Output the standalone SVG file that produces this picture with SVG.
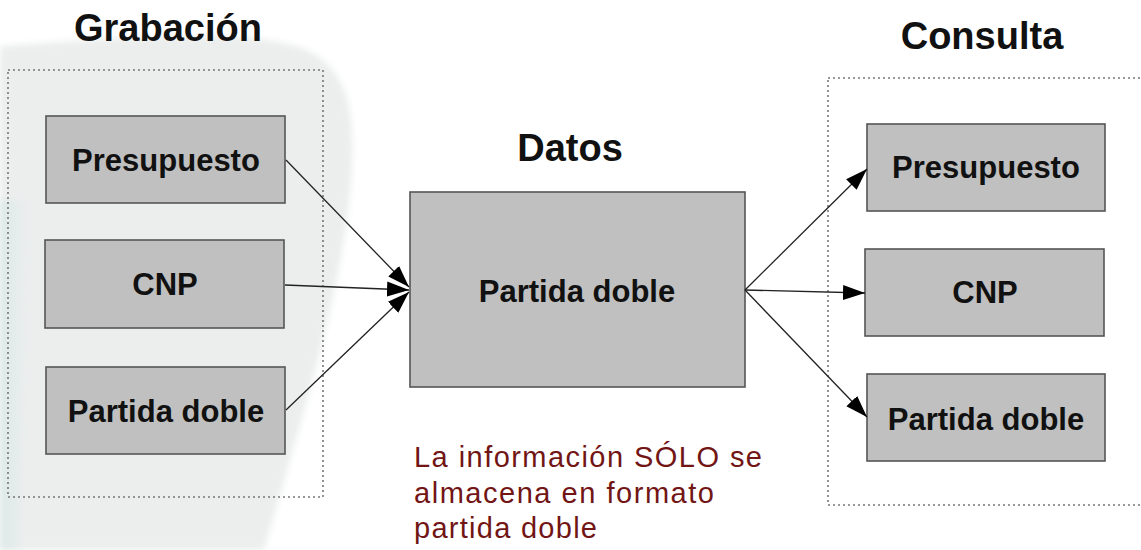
<svg xmlns="http://www.w3.org/2000/svg" width="1141" height="550" viewBox="0 0 1141 550">
<defs>
<style>
.title{font-family:"Liberation Sans",Arial,sans-serif;font-weight:bold;font-size:38px;fill:#111;text-anchor:middle}
.box{fill:#c0c0c0;stroke:#555;stroke-width:1.6}
.lbl{font-family:"Liberation Sans",Arial,sans-serif;font-weight:bold;font-size:31px;fill:#111;text-anchor:middle}
.grp{fill:none;stroke:#777;stroke-width:1.6;stroke-dasharray:2 3}
.conn{fill:none;stroke:#222;stroke-width:1.3}
.note{font-family:"Liberation Sans",Arial,sans-serif;font-size:29px;fill:#721515}
</style>
<marker id="ah" markerUnits="userSpaceOnUse" markerWidth="24" markerHeight="16" viewBox="0 -8 24 16" refX="22" refY="0" orient="auto">
<path d="M0,-7.5 L22,0 L0,7.5 Z" fill="#000"/>
</marker>
<filter id="soft" x="-10%" y="-10%" width="120%" height="120%"><feGaussianBlur stdDeviation="3"/></filter>
<linearGradient id="teal" x1="0" y1="0" x2="1" y2="0">
<stop offset="0" stop-color="#d9e9e6" stop-opacity="0.8"/>
<stop offset="1" stop-color="#d9e9e6" stop-opacity="0"/>
</linearGradient>
</defs>
<rect width="1141" height="550" fill="#fff"/>
<g id="background">
<path d="M0,46 C120,38 240,26 302,48 C348,66 355,110 352,170 C346,280 302,420 264,550 L0,550 Z" fill="#eceeee" filter="url(#soft)"/>
<path d="M0,200 L30,200 L20,550 L0,550 Z" fill="url(#teal)" filter="url(#soft)"/>
</g>
<g id="grabacion">
<text class="title" x="168" y="41">Grabación</text>
<rect class="grp" x="8" y="70" width="315" height="427"/>
</g>
<g id="consulta">
<text class="title" x="982" y="49">Consulta</text>
<rect class="grp" x="828" y="78" width="320" height="427"/>
</g>
<g id="datos-title">
<text class="title" x="570" y="161">Datos</text>
</g>
<g id="g-presupuesto">
<rect class="box" x="46" y="116" width="239" height="87"/>
<text class="lbl" x="166" y="171">Presupuesto</text>
</g>
<g id="g-cnp">
<rect class="box" x="45" y="240" width="239" height="88"/>
<text class="lbl" x="165" y="295">CNP</text>
</g>
<g id="g-partida">
<rect class="box" x="46" y="367" width="239" height="87"/>
<text class="lbl" x="166" y="422">Partida doble</text>
</g>
<g id="datos">
<rect class="box" x="410" y="192" width="335" height="195"/>
<text class="lbl" x="577" y="302">Partida doble</text>
</g>
<g id="c-presupuesto">
<rect class="box" x="867" y="124" width="238" height="87"/>
<text class="lbl" x="986" y="178">Presupuesto</text>
</g>
<g id="c-cnp">
<rect class="box" x="865" y="249" width="239" height="87"/>
<text class="lbl" x="985" y="303">CNP</text>
</g>
<g id="c-partida">
<rect class="box" x="867" y="374" width="238" height="87"/>
<text class="lbl" x="986" y="430">Partida doble</text>
</g>
<g id="connectors">
<line class="conn" x1="286" y1="160" x2="409" y2="287" marker-end="url(#ah)"/>
<line class="conn" x1="285" y1="285" x2="409" y2="290" marker-end="url(#ah)"/>
<line class="conn" x1="286" y1="410" x2="409" y2="292" marker-end="url(#ah)"/>
<line class="conn" x1="745" y1="290" x2="867" y2="169" marker-end="url(#ah)"/>
<line class="conn" x1="745" y1="290" x2="865" y2="293" marker-end="url(#ah)"/>
<line class="conn" x1="745" y1="290" x2="867" y2="417" marker-end="url(#ah)"/>
</g>
<g id="note">
<text class="note" x="414" y="467" textLength="348" lengthAdjust="spacing">La información SÓLO se</text>
<text class="note" x="414" y="503" textLength="300" lengthAdjust="spacing">almacena en formato</text>
<text class="note" x="414" y="538" textLength="183" lengthAdjust="spacing">partida doble</text>
</g>
</svg>
